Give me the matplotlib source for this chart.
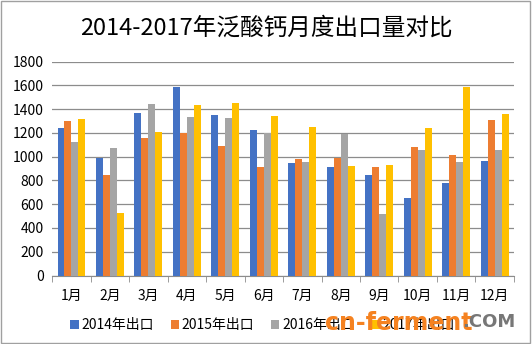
import numpy as np
import matplotlib.pyplot as plt
from matplotlib.patches import Patch, Rectangle

plt.rcParams['font.family'] = ['Noto Sans CJK SC', 'DejaVu Sans']

months = ['1月', '2月', '3月', '4月', '5月', '6月', '7月', '8月', '9月', '10月', '11月', '12月']
export_2014 = [1240, 990, 1365, 1585, 1350, 1225, 945, 915, 845, 655, 780, 965]
export_2015 = [1300, 845, 1160, 1200, 1090, 915, 980, 990, 915, 1080, 1015, 1310]
export_2016 = [1120, 1070, 1440, 1330, 1325, 1200, 955, 1190, 520, 1055, 955, 1055]
export_2017 = [1315, 530, 1205, 1435, 1450, 1340, 1250, 920, 930, 1240, 1585, 1360]
series_names = ['2014年出口', '2015年出口', '2016年出口', '2017年出口']
colors = ['#4472C4', '#ED7D31', '#A5A5A5', '#FFC000']

fig = plt.figure(figsize=(5.32, 3.44), dpi=100)
ax = fig.add_axes([0.098, 0.199, 0.868, 0.622])

x = np.arange(len(months))
w = 0.18
for i, (vals, c) in enumerate(zip([export_2014, export_2015, export_2016, export_2017], colors)):
    ax.bar(x + (i - 1.5) * w, vals, width=w, color=c, zorder=3)

ax.set_xlim(-0.5, len(months) - 0.5)
ax.set_ylim(0, 1800)
ax.set_yticks(range(0, 1801, 200))
ax.yaxis.grid(True, color='#8c8c8c', linewidth=0.9, zorder=0)
ax.tick_params(axis='y', length=0, labelsize=10, pad=6)

# category labels in the middle, tick marks on the boundaries
ax.set_xticks(x)
ax.set_xticklabels(months, fontsize=10)
ax.tick_params(axis='x', length=0, pad=10)
ax.set_xticks(np.arange(-0.5, len(months)), minor=True)
ax.tick_params(axis='x', which='minor', length=4, color='#8c8c8c')

for s in ['top', 'right', 'left']:
    ax.spines[s].set_visible(False)
ax.spines['bottom'].set_color('#8c8c8c')

fig.text(0.5, 0.918, '2014-2017年泛酸钙月度出口量对比', ha='center', va='center', fontsize=17)

handles = [Patch(facecolor=c) for c in colors]
leg = fig.legend(handles, series_names, loc='center', bbox_to_anchor=(0.494, 0.055), ncol=4,
                 frameon=False, fontsize=10, handlelength=0.6, handleheight=0.6,
                 handletextpad=0.2, columnspacing=1.2)
leg.set_zorder(1)

# site watermark
fig.text(0.61, 0.06, 'cn-ferment', color='#F58220', fontsize=17, fontweight='bold',
         ha='left', va='center', family='DejaVu Sans', zorder=10)
fig.text(0.868, 0.065, '.COM', color='#777777', fontsize=13, fontweight='bold',
         ha='left', va='center', family='DejaVu Sans', zorder=10)

fig.add_artist(Rectangle((0.002, 0.003), 0.995, 0.994, transform=fig.transFigure,
                         fill=False, edgecolor='#a0a0a0', linewidth=1))

fig.savefig('out.png', dpi=100)
